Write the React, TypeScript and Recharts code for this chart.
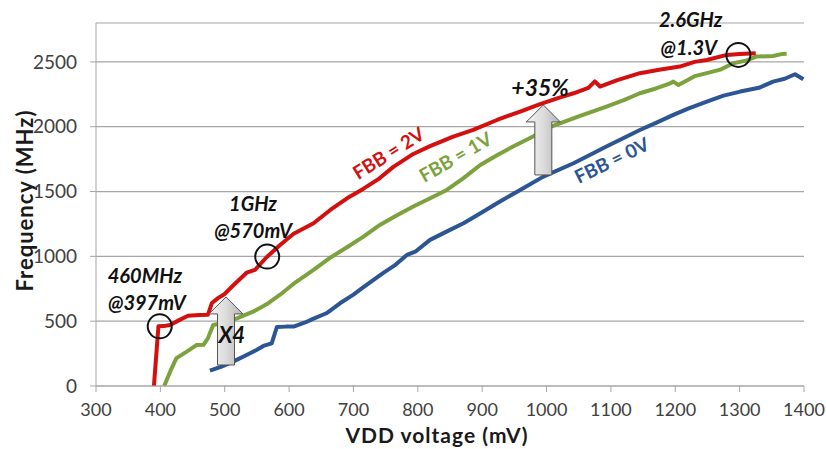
import React from "react";
import { LineChart, Line, XAxis, YAxis, CartesianGrid, ReferenceDot, ReferenceLine } from "recharts";

// FBB = 2V
const redV = [390, 397, 405, 415, 430, 443, 460, 474, 480, 490, 500, 513, 534, 547, 565, 586, 607, 638, 664, 690, 715, 740, 762, 793, 819, 855, 886, 923, 959, 990, 1020, 1042, 1065, 1075, 1083, 1110, 1145, 1175, 1207, 1230, 1249, 1280, 1300, 1325];
const redF = [0, 460, 462, 470, 510, 542, 548, 550, 640, 680, 710, 775, 874, 895, 993, 1088, 1175, 1255, 1358, 1448, 1520, 1600, 1690, 1790, 1850, 1924, 1975, 2052, 2117, 2175, 2225, 2258, 2300, 2350, 2310, 2360, 2413, 2440, 2464, 2500, 2515, 2554, 2560, 2567];

// FBB = 1V
const greenV = [406, 416, 425, 441, 456, 467, 474, 482, 492, 505, 518, 544, 565, 586, 610, 638, 664, 690, 715, 741, 767, 793, 820, 845, 870, 897, 923, 948, 979, 1005, 1050, 1093, 1120, 1145, 1170, 1190, 1197, 1205, 1230, 1249, 1270, 1290, 1310, 1326, 1352, 1365, 1373];
const greenF = [0, 120, 215, 265, 316, 318, 370, 470, 480, 495, 520, 573, 630, 704, 800, 895, 990, 1070, 1150, 1242, 1315, 1384, 1450, 1512, 1600, 1705, 1780, 1847, 1924, 1996, 2080, 2155, 2205, 2258, 2295, 2330, 2348, 2322, 2390, 2413, 2440, 2490, 2510, 2541, 2545, 2560, 2562];

// FBB = 0V
const blueV = [477, 495, 513, 534, 550, 560, 573, 581, 595, 607, 625, 638, 658, 679, 700, 715, 747, 764, 783, 796, 819, 850, 871, 900, 923, 959, 995, 1042, 1093, 1145, 1170, 1197, 1220, 1249, 1275, 1301, 1330, 1352, 1370, 1386, 1399];
const blueF = [118, 150, 188, 239, 280, 309, 329, 455, 458, 458, 490, 520, 561, 638, 705, 760, 875, 930, 1011, 1036, 1127, 1204, 1255, 1340, 1410, 1512, 1615, 1718, 1847, 1975, 2030, 2091, 2140, 2194, 2240, 2271, 2300, 2348, 2370, 2405, 2366];

const xTicks = [300, 400, 500, 600, 700, 800, 900, 1000, 1100, 1200, 1300, 1400];
const yTicks = [0, 500, 1000, 1500, 2000, 2500];

const zip = (v: number[], f: number[]) => v.map((x, i) => ({ v: x, f: f[i] }));
const red = zip(redV, redF);
const green = zip(greenV, greenF);
const blue = zip(blueV, blueF);

const FONT = "Lato, 'Open Sans', sans-serif";
const RED = "#d40f0f";
const GREEN = "#7ca23d";
const BLUE = "#2b5593";

const note = (text: string, size = 20, color = "#111", angle = 0, italic = true) => (p: any) => (
  <text
    x={p.cx}
    y={p.cy}
    textAnchor="middle"
    dominantBaseline="central"
    fontFamily={FONT}
    fontWeight="bold"
    fontStyle={italic ? "italic" : "normal"}
    fontSize={size}
    fill={color}
    transform={angle ? `rotate(${angle} ${p.cx} ${p.cy})` : undefined}
  >
    {text}
  </text>
);

let gid = 0;
const arrow = (p: any) => {
  const { x1, y1, x2, y2 } = p;
  const cx = (x1 + x2) / 2;
  const top = Math.min(y1, y2);
  const bottom = Math.max(y1, y2);
  const sw = 8.5, hw = 17, hh = 17;
  const id = `arrowGrad${gid++}`;
  const pts = [
    [cx, top],
    [cx + hw, top + hh],
    [cx + sw, top + hh],
    [cx + sw, bottom],
    [cx - sw, bottom],
    [cx - sw, top + hh],
    [cx - hw, top + hh],
  ].map((q) => q.join(",")).join(" ");
  return (
    <g>
      <defs>
        <linearGradient id={id} x1="0" y1="0" x2="1" y2="0">
          <stop offset="0" stopColor="#f4f4f4" />
          <stop offset="0.5" stopColor="#dcdcdc" />
          <stop offset="1" stopColor="#b4b4b4" />
        </linearGradient>
      </defs>
      <polygon points={pts} fill={`url(#${id})`} stroke="#555" strokeWidth={1} />
    </g>
  );
};

const circle = { r: 12, fill: "none", stroke: "#111", strokeWidth: 2, ifOverflow: "visible" as const };

export default function App() {
  return (
    <div style={{ position: "absolute", left: 0, top: 0, fontFamily: FONT, background: "#fff" }}>
      <LineChart width={826} height={449} margin={{ top: 23, right: 22, bottom: 0, left: 0 }}>
        <CartesianGrid vertical={false} stroke="#a6a6a6" strokeWidth={1.2} />
        <XAxis
          type="number"
          dataKey="v"
          domain={[300, 1400]}
          ticks={xTicks}
          height={63}
          stroke="#a6a6a6"
          tickSize={6}
          tickMargin={11}
          tick={{ fontSize: 18, fill: "#404040", fontFamily: FONT }}
          label={{
            content: (p: any) => {
              const vb = p.viewBox ?? { x: 96, y: 386, width: 708, height: 63 };
              return (
                <text x={vb.x + vb.width / 2 - 13} y={vb.y + 57} textAnchor="middle" fontFamily={FONT} fontWeight="bold" fontSize={21} letterSpacing={1} fill="#1a1a1a">
                  VDD voltage (mV)
                </text>
              );
            },
          }}
        />
        <YAxis
          type="number"
          dataKey="f"
          domain={[0, 2800]}
          ticks={yTicks}
          width={96}
          stroke="#a6a6a6"
          tickSize={6}
          tickMargin={13}
          tick={{ fontSize: 19, fill: "#404040", fontFamily: FONT }}
          label={{
            content: (p: any) => {
              const vb = p.viewBox ?? { x: 0, y: 23, width: 96, height: 363 };
              const x = vb.x + 24;
              const y = vb.y + vb.height / 2 - 4;
              return (
                <text x={x} y={y} transform={`rotate(-90 ${x} ${y})`} textAnchor="middle" dominantBaseline="central" fontFamily={FONT} fontWeight="bold" fontSize={22} letterSpacing={1} fill="#1a1a1a">
                  Frequency (MHz)
                </text>
              );
            },
          }}
        />
        <Line data={blue} dataKey="f" type="linear" stroke={BLUE} strokeWidth={4} dot={false} strokeLinejoin="round" isAnimationActive={false} />
        <Line data={green} dataKey="f" type="linear" stroke={GREEN} strokeWidth={4} dot={false} strokeLinejoin="round" isAnimationActive={false} />
        <Line data={red} dataKey="f" type="linear" stroke={RED} strokeWidth={4} dot={false} strokeLinejoin="round" isAnimationActive={false} />

        <ReferenceLine segment={[{ x: 502, y: 162 }, { x: 502, y: 687 }]} shape={arrow} />
        <ReferenceLine segment={[{ x: 995, y: 1628 }, { x: 995, y: 2168 }]} shape={arrow} />

        <ReferenceDot x={399} y={460} {...circle} />
        <ReferenceDot x={566} y={998} {...circle} />
        <ReferenceDot x={1298} y={2554} {...circle} />

        <ReferenceDot x={376} y={856} r={0} ifOverflow="visible" shape={note("460MHz")} />
        <ReferenceDot x={379} y={650} r={0} ifOverflow="visible" shape={note("@397mV")} />
        <ReferenceDot x={544} y={1414} r={0} ifOverflow="visible" shape={note("1GHz")} />
        <ReferenceDot x={544} y={1204} r={0} ifOverflow="visible" shape={note("@570mV")} />
        <ReferenceDot x={1224} y={2832} r={0} ifOverflow="visible" shape={note("2.6GHz")} />
        <ReferenceDot x={1221} y={2612} r={0} ifOverflow="visible" shape={note("@1.3V")} />
        <ReferenceDot x={990} y={2309} r={0} ifOverflow="visible" shape={note("+35%", 23)} />
        <ReferenceDot x={511} y={394} r={0} ifOverflow="visible" shape={note("X4", 22)} />

        <ReferenceDot x={754} y={1800} r={0} ifOverflow="visible" shape={note("FBB = 2V", 19, RED, -32, false)} />
        <ReferenceDot x={858} y={1770} r={0} ifOverflow="visible" shape={note("FBB = 1V", 19, GREEN, -30, false)} />
        <ReferenceDot x={1101} y={1745} r={0} ifOverflow="visible" shape={note("FBB = 0V", 19, BLUE, -26, false)} />
      </LineChart>
    </div>
  );
}
